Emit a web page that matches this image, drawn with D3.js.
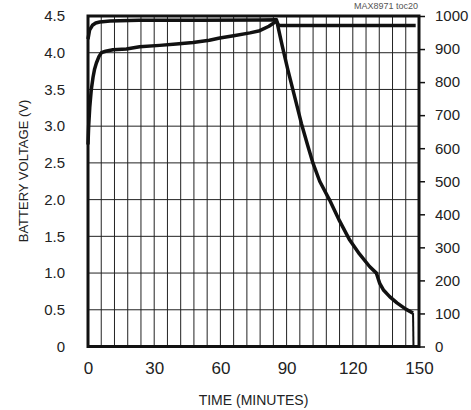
<!DOCTYPE html>
<html>
<head>
<meta charset="utf-8">
<script src="https://cdn.jsdelivr.net/npm/d3@7"></script>
<style>
  body { margin: 0; background: #fff; }
  text { font-family: "Liberation Sans", Arial, sans-serif; fill: #222; }
</style>
</head>
<body>
<div id="chart"></div>
<script>
// battery voltage (V) vs time (min)
var voltage = [
    [0, 2.75], [0.3, 3.0], [0.8, 3.26], [1.5, 3.5], [2.3, 3.67], [3, 3.78],
    [3.8, 3.86], [5, 3.95], [6.1, 4.0], [8, 4.02], [11.3, 4.04], [17.4, 4.05],
    [23.4, 4.08], [32.5, 4.10], [40, 4.12], [47.6, 4.14], [55, 4.17], [59.7, 4.20],
    [66, 4.23], [73.4, 4.27], [77.8, 4.30], [82, 4.36], [85.4, 4.43], [86.5, 4.37],
    [148.5, 4.37]
]

// charge current (mA) vs time (min)
var current = [
    [0, 930], [0.7, 957], [2, 972], [3.5, 979], [5.3, 982], [10, 985], [23, 987],
    [50, 987], [78, 988], [85.4, 989], [88, 910], [90.6, 836], [93.5, 760],
    [96.7, 675], [99.5, 610], [102, 554], [105, 500], [109.5, 443], [114, 380],
    [118.6, 322], [123, 280], [127.6, 242], [130.7, 222], [131.5, 205], [132.2, 191],
    [134, 170], [136.7, 151], [140, 132], [144, 113], [147.3, 101]
]

// charge termination
var termination = [[147.3, 101], [147.5, 0]]

var xTicks = [0, 30, 60, 90, 120, 150]
var xGrid = d3.range(0, 151, 6)
var yTicks = [0, 0.5, 1.0, 1.5, 2.0, 2.5, 3.0, 3.5, 4.0, 4.5]
var y2Ticks = [0, 100, 200, 300, 400, 500, 600, 700, 800, 900, 1000]

var margin = {top: 16, right: 52, bottom: 63.5, left: 88},
    width = 471 - margin.left - margin.right,
    height = 410 - margin.top - margin.bottom;

var svg = d3.select("#chart")
    .append("svg")
    .attr("width", 471)
    .attr("height", 410)

var g = svg.append("g")
    .attr("transform", "translate(" + margin.left + "," + margin.top + ")")

var x = d3.scaleLinear().domain([0, 150]).range([0, width])
var y = d3.scaleLinear().domain([0, 4.5]).range([height, 0])
var y2 = d3.scaleLinear().domain([0, 1000]).range([height, 0])

// grid
g.append("g")
    .selectAll("line.vg")
    .data(xGrid)
    .enter()
    .append("line")
    .attr("x1", function(d) { return x(d) })
    .attr("x2", function(d) { return x(d) })
    .attr("y1", 0)
    .attr("y2", height)
    .style("stroke", "#222")
    .style("stroke-width", 1)

g.append("g")
    .selectAll("line.hg")
    .data(yTicks)
    .enter()
    .append("line")
    .attr("x1", 0)
    .attr("x2", width)
    .attr("y1", function(d) { return y(d) })
    .attr("y2", function(d) { return y(d) })
    .style("stroke", "#222")
    .style("stroke-width", 1)

// axes
var xAxis = g.append("g")
    .attr("transform", "translate(0," + height + ")")
    .call(d3.axisBottom(x).tickValues(xTicks).tickSize(0).tickPadding(15).tickFormat(d3.format("d")))
xAxis.select(".domain").remove()
xAxis.selectAll("text").style("font-size", "17px")

var yAxis = g.append("g")
    .call(d3.axisLeft(y).tickValues(yTicks).tickSize(0).tickPadding(23).tickFormat(function(d) { return d === 0 ? "0" : d3.format(".1f")(d) }))
yAxis.select(".domain").remove()
yAxis.selectAll("text").style("font-size", "15px")

var y2Axis = g.append("g")
    .attr("transform", "translate(" + width + ",0)")
    .call(d3.axisRight(y2).tickValues(y2Ticks).tickSize(6).tickPadding(10).tickFormat(d3.format("d")))
y2Axis.select(".domain").remove()
y2Axis.selectAll("line").style("stroke", "#111").style("stroke-width", 1.5)
y2Axis.selectAll("text").style("font-size", "15px")

// frame
g.append("rect")
    .attr("x", 0)
    .attr("y", 0)
    .attr("width", width)
    .attr("height", height)
    .style("fill", "none")
    .style("stroke", "#111")
    .style("stroke-width", 3)

var line = d3.line()
    .x(function(d) { return x(d[0]) })

g.append("path")
    .datum(voltage)
    .attr("d", line.y(function(d) { return y(d[1]) }))
    .style("fill", "none")
    .style("stroke", "#111")
    .style("stroke-width", 3.5)
    .style("stroke-linejoin", "round")

g.append("path")
    .datum(current)
    .attr("d", line.y(function(d) { return y2(d[1]) }))
    .style("fill", "none")
    .style("stroke", "#111")
    .style("stroke-width", 3.5)
    .style("stroke-linejoin", "round")

g.append("path")
    .datum(termination)
    .attr("d", line.y(function(d) { return y2(d[1]) }))
    .style("fill", "none")
    .style("stroke", "#111")
    .style("stroke-width", 2)

// titles
svg.append("text")
    .attr("x", margin.left + width / 2)
    .attr("y", 405)
    .attr("text-anchor", "middle")
    .style("font-size", "14px")
    .text("TIME (MINUTES)")

svg.append("text")
    .attr("transform", "translate(28,171) rotate(-90)")
    .attr("text-anchor", "middle")
    .style("font-size", "13px")
    .text("BATTERY VOLTAGE (V)")

svg.append("text")
    .attr("x", 418)
    .attr("y", 9)
    .attr("text-anchor", "end")
    .style("font-size", "9px")
    .style("fill", "#555")
    .text("MAX8971 toc20")
</script>
</body>
</html>
